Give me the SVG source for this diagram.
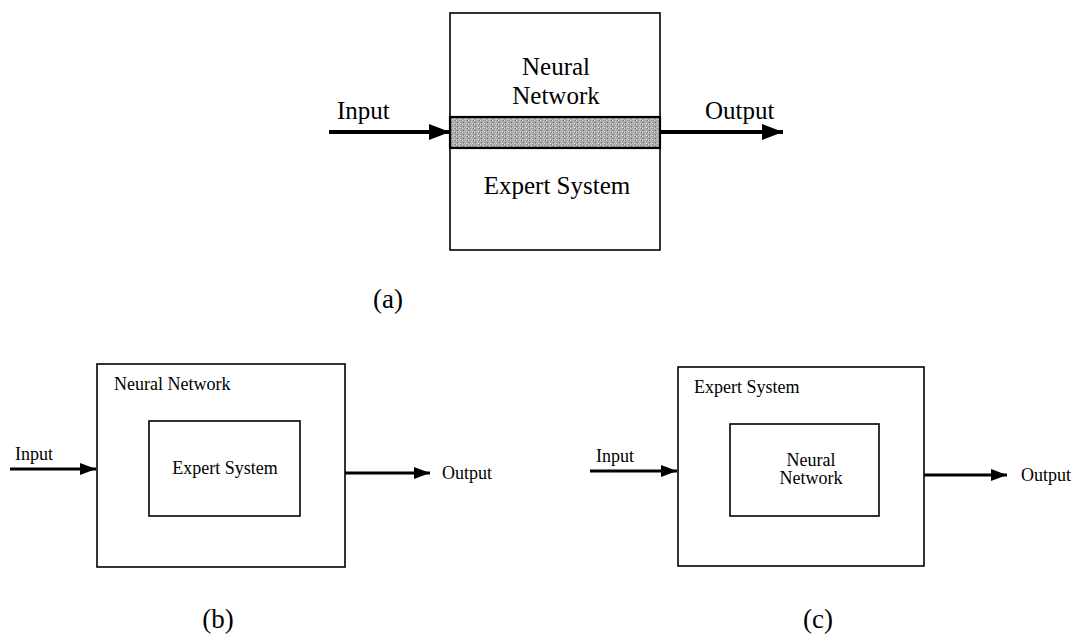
<svg xmlns="http://www.w3.org/2000/svg" width="1073" height="640" viewBox="0 0 1073 640">
  <style>
    .box { fill: #ffffff; stroke: #000000; stroke-width: 1.6; }
    text { font-family: "Liberation Serif", "Times New Roman", Times, "DejaVu Serif", "Noto Serif", serif; fill: #000000; }
    .big { font-size: 25px; }
    .small { font-size: 18px; }
    .cap { font-size: 27px; }
    .wire { stroke: #000000; fill: none; }
    .thick { stroke-width: 4; }
    .thin { stroke-width: 3; }
  </style>
  <defs>
    <marker id="headBig" viewBox="0 0 21 16" refX="21" refY="8" markerUnits="userSpaceOnUse" markerWidth="21" markerHeight="16" orient="auto">
      <path d="M0,0 L21,8 L0,16 Z" fill="#000"/>
    </marker>
    <marker id="headSmall" viewBox="0 0 16 12" refX="16" refY="6" markerUnits="userSpaceOnUse" markerWidth="16" markerHeight="12" orient="auto">
      <path d="M0,0 L16,6 L0,12 Z" fill="#000"/>
    </marker>
    <!-- dithered grey shading for the coupling band -->
    <pattern id="speckle" width="6" height="4" patternUnits="userSpaceOnUse">
      <rect width="6" height="4" fill="#a6a6a6"/>
      <rect x="0" y="0" width="1" height="1" fill="#e6e6e6"/>
      <rect x="3" y="1" width="1" height="1" fill="#d8d8d8"/>
      <rect x="1" y="2" width="1" height="1" fill="#707070"/>
      <rect x="4" y="3" width="1" height="1" fill="#e0e0e0"/>
      <rect x="5" y="0" width="1" height="1" fill="#7a7a7a"/>
      <rect x="2" y="3" width="1" height="1" fill="#cfcfcf"/>
    </pattern>
  </defs>

  <!-- (a) tightly coupled hybrid -->
  <g id="hybrid-a">
    <rect class="box" x="450" y="13" width="210" height="237"/>
    <rect x="450" y="117" width="210" height="31" fill="url(#speckle)" stroke="#000" stroke-width="2.2"/>
    <text class="big" x="556" y="75" text-anchor="middle">Neural</text>
    <text class="big" x="556" y="104" text-anchor="middle">Network</text>
    <text class="big" x="557" y="194" text-anchor="middle">Expert System</text>
  </g>
  <text class="big" x="337" y="119">Input</text>
  <text class="big" x="705" y="119">Output</text>
  <text class="cap" x="388" y="308" text-anchor="middle">(a)</text>

  <!-- (b) expert system embedded in neural network -->
  <g id="nn-outer-b">
    <rect class="box" x="97" y="364" width="248" height="203"/>
    <text class="small" x="114" y="390">Neural Network</text>
  </g>
  <g id="es-inner-b">
    <rect class="box" x="149" y="421" width="151" height="95"/>
    <text class="small" x="225" y="474" text-anchor="middle">Expert System</text>
  </g>
  <text class="small" x="15" y="460">Input</text>
  <text class="small" x="442" y="479">Output</text>
  <text class="cap" x="218" y="628" text-anchor="middle">(b)</text>

  <!-- (c) neural network embedded in expert system -->
  <g id="es-outer-c">
    <rect class="box" x="678" y="367" width="246" height="199"/>
    <text class="small" x="694" y="393">Expert System</text>
  </g>
  <g id="nn-inner-c">
    <rect class="box" x="730" y="424" width="149" height="92"/>
    <text class="small" x="811" y="466" text-anchor="middle">Neural</text>
    <text class="small" x="811" y="484" text-anchor="middle">Network</text>
  </g>
  <text class="small" x="596" y="462">Input</text>
  <text class="small" x="1021" y="481">Output</text>
  <text class="cap" x="818" y="628" text-anchor="middle">(c)</text>

  <!-- connectors -->
  <g id="connectors">
    <line class="wire thick" x1="329" y1="132" x2="450" y2="132" marker-end="url(#headBig)"/>
    <line class="wire thick" x1="660" y1="132" x2="783" y2="132" marker-end="url(#headBig)"/>
    <line class="wire thin" x1="10" y1="469" x2="96" y2="469" marker-end="url(#headSmall)"/>
    <line class="wire thin" x1="345" y1="473" x2="430" y2="473" marker-end="url(#headSmall)"/>
    <line class="wire thin" x1="590" y1="471" x2="677" y2="471" marker-end="url(#headSmall)"/>
    <line class="wire thin" x1="924" y1="475" x2="1007" y2="475" marker-end="url(#headSmall)"/>
  </g>
</svg>
